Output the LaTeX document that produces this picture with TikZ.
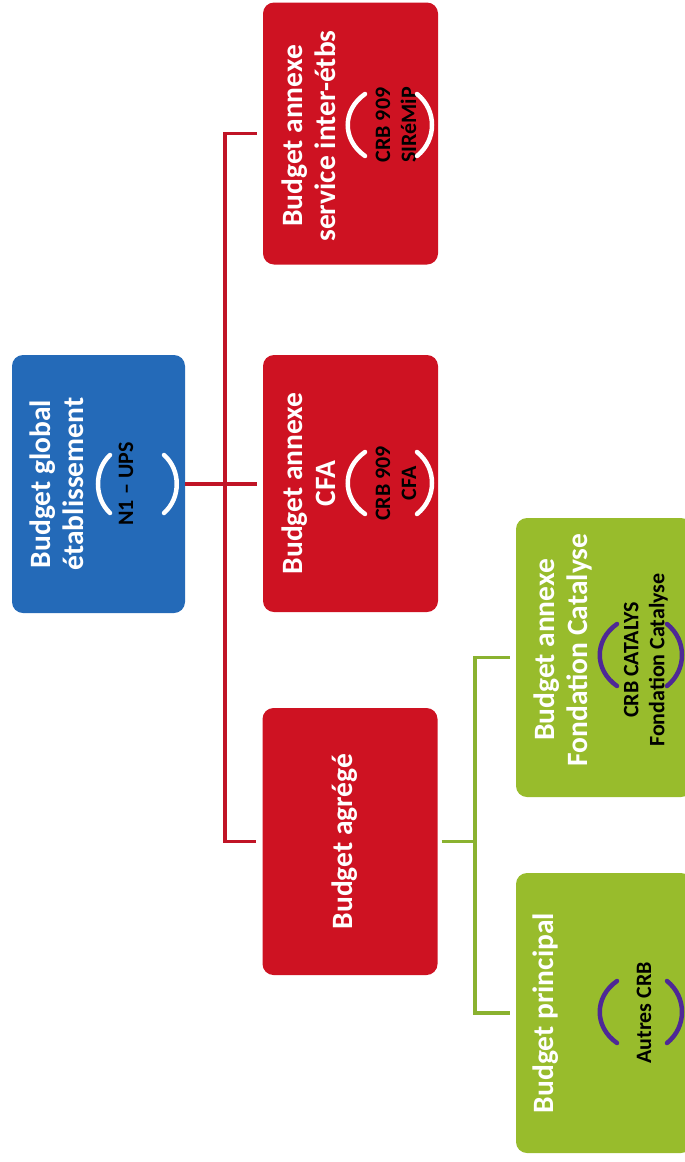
\documentclass[tikz,border=0pt]{standalone}
\usepackage{fontspec}
\setmainfont{Carlito}
\usepackage{tikz}
\usepackage{xcolor}
\definecolor{budblue}{RGB}{36,106,184}
\definecolor{budred}{RGB}{206,18,34}
\definecolor{budgreen}{RGB}{152,188,44}
\definecolor{budpurple}{RGB}{78,40,150}
\definecolor{linered}{RGB}{192,20,38}
\definecolor{linegreen}{RGB}{138,178,48}
\tikzstyle{budbox} = [rectangle, rounded corners=11pt, inner sep=0pt, minimum width=175pt, minimum height=262pt]
\tikzstyle{boxtitle} = [rotate=90, align=center, text=white, font=\bfseries\fontsize{29.5}{33}\selectfont]
\tikzstyle{boxsub} = [rotate=90, align=center, text=black, font=\bfseries\fontsize{22}{26}\selectfont]
\tikzstyle{redline} = [line width=3.5pt, color=linered]
\tikzstyle{greenline} = [line width=3.5pt, color=linegreen]
\tikzstyle{paren} = [line width=4.5pt, line cap=round]

\begin{document}
\begin{tikzpicture}[x=1pt, y=-1pt]
\useasboundingbox (0,0) rectangle (685,1162);
\clip (0,0) rectangle (685,1162);

% Boxes
\node[budbox, fill=budblue, minimum width=173pt, minimum height=258pt] (glob) at (98.5,484) {};
\node[budbox, fill=budred] (inter) at (350.5,133.5) {};
\node[budbox, fill=budred, minimum height=257pt] (cfa) at (350.5,483.5) {};
\node[budbox, fill=budred, minimum height=267pt] (agr) at (350,841.5) {};
\node[budbox, fill=budgreen, minimum width=176pt, minimum height=279pt] (fond) at (604,657.5) {};
\node[budbox, fill=budgreen, minimum width=176pt, minimum height=280pt] (princ) at (604,1013) {};

% Red connectors
\coordinate (rspine) at (225,484);
\draw[redline, shorten >=6pt] (glob.east) -- (glob.east -| cfa.west);
\draw[redline, shorten <=6pt, shorten >=6pt] (inter.west) -- (inter.west -| rspine) -- (agr.west -| rspine) -- (agr.west);

% Green connectors
\coordinate (gspine) at (475,841);
\draw[greenline, shorten <=4pt] (agr.east) -- (agr.east -| gspine);
\draw[greenline, shorten <=6pt, shorten >=6pt] (fond.west) -- (fond.west -| gspine) -- (princ.west -| gspine) -- (princ.west);

% Texts
\node[boxtitle] (globt) at (57,484) {Budget global\\établissement};
\node[boxsub] (globs) at (126,484) {N1 -- UPS};
\node[boxtitle] (intert) at (309,136) {Budget annexe\\service inter-étbs};
\node[boxsub] (inters) at (396,125) {CRB 909\\SIRéMiP};
\node[boxtitle] (cfat) at (309,483.5) {Budget annexe\\CFA};
\node[boxsub] (cfas) at (396,483.5) {CRB 909\\CFA};
\node[boxtitle] (agrt) at (345,841.5) {Budget agrégé};
\node[boxtitle] (fondt) at (563,650) {Budget annexe\\Fondation Catalyse};
\node[boxsub] (fonds) at (646,660) {CRB CATALYS\\Fondation Catalyse};
\node[boxtitle] (princt) at (546,1013) {Budget principal};
\node[boxsub] (princs) at (644,1013) {Autres CRB};

% Brackets
\draw[paren, white] (110,455) .. controls (94,470) and (94,498) .. (110,513);
\draw[paren, white] (164,455) .. controls (181,470) and (181,498) .. (164,513);
\draw[paren, white] (365,94) .. controls (342,110) and (342,140) .. (365,156);
\draw[paren, white] (417,94) .. controls (437,110) and (437,140) .. (417,156);
\draw[paren, white] (365,452) .. controls (342,468) and (342,498) .. (365,514);
\draw[paren, white] (417,452) .. controls (437,468) and (437,498) .. (417,514);
\draw[paren, budpurple] (617,624) .. controls (594,640) and (594,670) .. (617,686);
\draw[paren, budpurple] (667,624) .. controls (687,640) and (687,670) .. (667,686);
\draw[paren, budpurple] (617,981) .. controls (594,997) and (594,1027) .. (617,1043);
\draw[paren, budpurple] (667,981) .. controls (687,997) and (687,1027) .. (667,1043);
\end{tikzpicture}
\end{document}
